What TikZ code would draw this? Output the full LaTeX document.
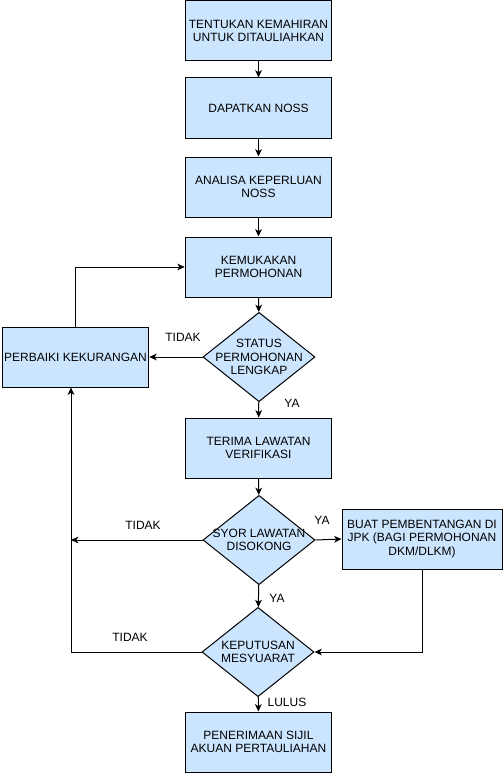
\documentclass[tikz,border=0pt]{standalone}
\usepackage{fontspec}
\setmainfont{Liberation Sans}
\usetikzlibrary{shapes.geometric,arrows.meta}
\definecolor{boxblue}{HTML}{CCE5FF}

\begin{document}
\begin{tikzpicture}[x=0.75pt, y=-0.75pt, line width=0.75pt,
         font=\fontsize{9}{10.2}\selectfont,
         stepbox/.style={draw, fill=boxblue, align=center, inner sep=1pt,
                         minimum width=110pt, minimum height=45pt},
         decision/.style={draw, diamond, fill=boxblue, inner sep=0pt,
                          minimum width=84pt, minimum height=67pt},
         dtext/.style={align=center},
         answer/.style={inner sep=0pt},
         flow/.style={-{Stealth[length=5.5pt, width=5pt, inset=1.5pt]}}]
   \useasboundingbox (0,0) rectangle (503,774);

   % main column
   \node[stepbox] (tentukan) at (258.5,31) {TENTUKAN KEMAHIRAN\\UNTUK DITAULIAHKAN};
   \node[stepbox] (noss) at (258.5,108) {DAPATKAN NOSS};
   \node[stepbox] (analisa) at (258.5,187) {ANALISA KEPERLUAN\\NOSS};
   \node[stepbox] (kemukakan) at (258.5,267) {KEMUKAKAN\\PERMOHONAN};
   \node[decision, label={[dtext]center:STATUS\\PERMOHONAN\\LENGKAP}] (status) at (259,357) {};
   \node[stepbox] (terima) at (258.5,448) {TERIMA LAWATAN\\VERIFIKASI};
   \node[decision, label={[dtext]center:SYOR LAWATAN\\DISOKONG}] (syor) at (259,540) {};
   \node[decision, label={[dtext]center:KEPUTUSAN\\MESYUARAT}] (keputusan) at (258,652) {};
   \node[stepbox] (sijil) at (258.5,742) {PENERIMAAN SIJIL\\AKUAN PERTAULIAHAN};

   % side boxes
   \node[stepbox, minimum width=110pt] (perbaiki) at (75.5,357) {PERBAIKI KEKURANGAN};
   \node[stepbox, minimum width=120pt] (buat) at (422,539) {BUAT PEMBENTANGAN DI\\JPK (BAGI PERMOHONAN\\DKM/DLKM)};
   \coordinate (balik) at (71,540);

   % answers
   \node[answer] (tidak1) at (183,337) {TIDAK};
   \node[answer] (ya1) at (292,403) {YA};
   \node[answer] (tidak2) at (143,525) {TIDAK};
   \node[answer] (ya2) at (322,520) {YA};
   \node[answer] (ya3) at (277,598) {YA};
   \node[answer] (tidak3) at (130,637) {TIDAK};
   \node[answer] (lulus) at (287,702) {LULUS};

   % connectors
   \draw[flow] (tentukan) -- (noss);
   \draw[flow] (noss) -- (analisa);
   \draw[flow] (analisa) -- (kemukakan);
   \draw[flow] (kemukakan) -- (status);
   \draw[flow] (status) -- (terima);
   \draw[flow] (status) -- (perbaiki);
   \draw[flow] (perbaiki.north) |- (kemukakan.west);
   \draw[flow] (terima) -- (syor);
   \draw[flow] (syor.west) -- (balik);
   \draw[flow] (syor.east) -- (buat.west);
   \draw[flow] (syor) -- (keputusan);
   \draw[flow] (buat.south) |- (keputusan.east);
   \draw[flow] (keputusan.west) -| (balik |- perbaiki.south);
   \draw[flow] (keputusan) -- (sijil);
\end{tikzpicture}
\end{document}
